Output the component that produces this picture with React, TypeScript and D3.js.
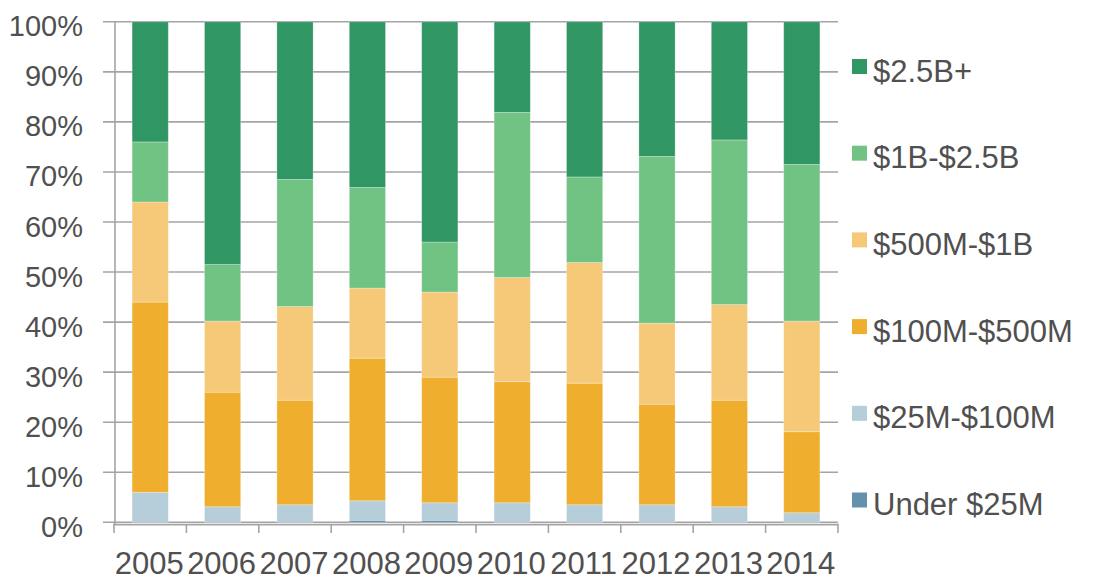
import React from "react";
import * as d3 from "d3";

const years = ["2005", "2006", "2007", "2008", "2009", "2010", "2011", "2012", "2013", "2014"];
const seriesNames = ["Under $25M", "$25M-$100M", "$100M-$500M", "$500M-$1B", "$1B-$2.5B", "$2.5B+"];
const under25M = [0, 0, 0, 0.4, 0.4, 0, 0, 0, 0, 0];
const m25to100 = [6.0, 3.1, 3.5, 3.9, 3.5, 3.9, 3.5, 3.5, 3.1, 1.9];
const m100to500 = [38.0, 22.9, 20.9, 28.5, 25.1, 24.2, 24.3, 20.1, 21.3, 16.2];
const m500to1b = [20.0, 14.2, 18.7, 14.0, 17.0, 20.8, 24.1, 16.2, 19.1, 22.1];
const b1to2_5 = [12.0, 11.3, 25.4, 20.1, 10.0, 33.0, 17.1, 33.3, 32.9, 31.3];
const b2_5plus = [24.0, 48.5, 31.5, 33.1, 44.0, 18.1, 31.0, 26.9, 23.6, 28.5];
const colors = ["#6492ac", "#b6ceda", "#f0ae2e", "#f5c978", "#71c384", "#309664"];
const yTicks = [0, 10, 20, 30, 40, 50, 60, 70, 80, 90, 100];

const W = 1096;
const H = 587;
const FONT = "'Liberation Sans', Arial, Helvetica, sans-serif";
const TEXT = "#505050";
const GRID = "#a4a4a4";

export default function App() {
  const rows = years.map((y, i) => {
    const r: Record<string, any> = { year: y };
    const vals = [under25M, m25to100, m100to500, m500to1b, b1to2_5, b2_5plus];
    seriesNames.forEach((n, k) => (r[n] = vals[k][i]));
    return r;
  });
  const stacked = d3.stack<any>().keys(seriesNames)(rows);

  const x = d3.scaleBand<string>().domain(years).range([114, 838]).paddingInner(0.5).paddingOuter(0.25);
  const y = d3.scaleLinear().domain([0, 100]).range([522.3, 21.8]);

  const bandEdges = d3.range(years.length + 1).map((i) => 114 + (i * (838 - 114)) / years.length);

  const legendOrder = [...seriesNames].reverse();

  return (
    <svg width={W} height={H} style={{ position: "absolute", left: 0, top: 0, background: "#fff" }} fontFamily={FONT}>
      {/* gridlines */}
      {yTicks.map((t) => (
        <line key={"g" + t} x1={103} x2={838} y1={y(t)} y2={y(t)} stroke={GRID} strokeWidth={1.6} />
      ))}
      {/* y labels */}
      {yTicks.map((t) => (
        <text
          key={"yl" + t}
          x={0}
          y={0}
          textAnchor="end"
          fontSize={29}
          fill={TEXT}
          transform={`translate(83, ${y(t) + 14.5}) scale(1, 1.04)`}
        >
          {t + "%"}
        </text>
      ))}
      {/* bars */}
      {stacked.map((s, k) => (
        <g key={s.key} fill={colors[k]}>
          {s.map((d, i) => {
            const h = y(d[0]) - y(d[1]);
            if (h <= 0) return null;
            return (
              <rect
                key={i}
                x={x(years[i])}
                y={y(d[1])}
                width={x.bandwidth()}
                height={h}
                stroke="#ffffff"
                strokeOpacity={0.35}
                strokeWidth={0.8}
              />
            );
          })}
        </g>
      ))}
      {/* y axis */}
      <line x1={115} x2={115} y1={y(100)} y2={525} stroke={GRID} strokeWidth={1.6} />
      {/* x axis */}
      <line x1={113} x2={838.5} y1={524.6} y2={524.6} stroke={GRID} strokeWidth={1.6} />
      {bandEdges.map((bx, i) => (
        <line key={"xt" + i} x1={bx} x2={bx} y1={524} y2={533} stroke={GRID} strokeWidth={1.6} />
      ))}
      {years.map((yr) => (
        <text
          key={"xl" + yr}
          x={0}
          y={0}
          textAnchor="middle"
          fontSize={31}
          fill={TEXT}
          transform={`translate(${(x(yr) as number) + x.bandwidth() / 2 - 1}, 573.5) scale(1, 1.04)`}
        >
          {yr}
        </text>
      ))}
      {/* legend */}
      {legendOrder.map((n, i) => {
        const k = seriesNames.indexOf(n);
        return (
          <g key={"lg" + n} transform={`translate(0, ${i * 86.7})`}>
            <rect x={852} y={59} width={15} height={15} fill={colors[k]} />
            <text x={873} y={81.7} fontSize={31} fill={TEXT}>
              {n}
            </text>
          </g>
        );
      })}
    </svg>
  );
}
